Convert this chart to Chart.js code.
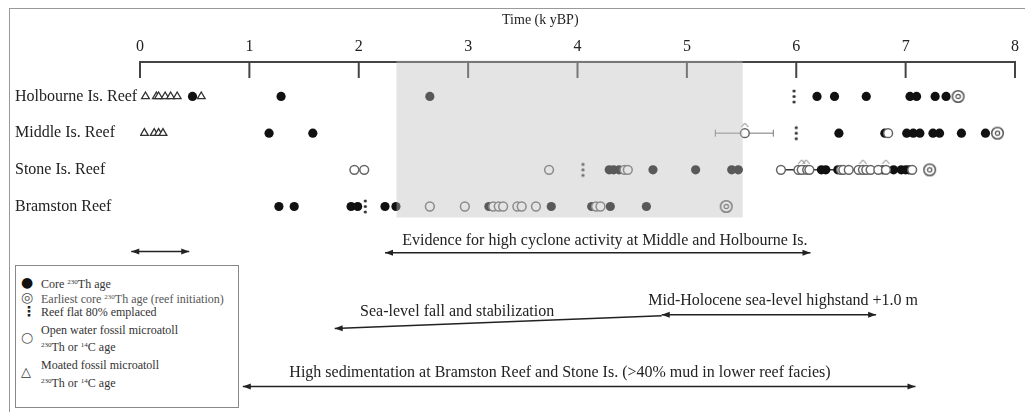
<!DOCTYPE html>
<html>
<head>
<meta charset="utf-8">
<script src="https://cdn.jsdelivr.net/npm/chart.js@4.4.1/dist/chart.umd.min.js"></script>
<style>
  body { margin: 0; background: #fff; }
  #wrap { position: relative; width: 1025px; height: 412px; overflow: hidden; font-family: "Liberation Serif", serif; }
  #frame { position: absolute; left: 9px; top: 8px; width: 1030px; height: 420px; border-top: 1px solid #999; border-left: 1px solid #999; }
  #legend { position: absolute; left: 15px; top: 265px; width: 222px; height: 141px; border: 1px solid #888; background: #fff; color: #333; font-size: 12px; }
  #legend div { position: absolute; left: 25px; line-height: 14px; white-space: nowrap; }
  #legend span.sym { position: absolute; left: 5px; font-family: "DejaVu Sans", sans-serif; font-size: 14px; line-height: 14px; }
  #legend sup { font-size: 7px; vertical-align: 4px; }
</style>
</head>
<body>
<div id="wrap">
  <canvas id="chart" width="1025" height="412"></canvas>
  <div id="frame"></div>
  <div id="legend">
    <span class="sym" style="top:9px;color:#111">●</span><div style="top:9px">Core <sup>230</sup>Th age</div>
    <span class="sym" style="top:24px;color:#555">◎</span><div style="top:24px;color:#555">Earliest core <sup>230</sup>Th age (reef initiation)</div>
    <span class="sym" style="top:38px;color:#222;font-weight:bold;left:6px">⋮</span><div style="top:39px">Reef flat 80% emplaced</div>
    <span class="sym" style="top:64px;color:#555">○</span><div style="top:57px">Open water fossil microatoll</div><div style="top:72px"><sup>230</sup>Th or <sup>14</sup>C age</div>
    <span class="sym" style="top:99px;color:#333;font-size:13px">△</span><div style="top:92px">Moated fossil microatoll</div><div style="top:108px"><sup>230</sup>Th or <sup>14</sup>C age</div>
  </div>
</div>
<script>
const reefs = ['Holbourne Is. Reef', 'Middle Is. Reef', 'Stone Is. Reef', 'Bramston Reef'];
const rows = [1, 2, 3, 4];
const tickValues = [0, 1, 2, 3, 4, 5, 6, 7, 8];

// ages in k yBP, one list per reef and symbol
const holbourneCore = [0.48, 1.29, 2.65, 6.19, 6.35, 6.64, 7.04, 7.10, 7.27, 7.37];
const middleCore = [1.18, 1.58, 6.39, 6.81, 7.01, 7.07, 7.13, 7.25, 7.31, 7.51, 7.73];
const stoneCore = [4.29, 4.33, 4.38, 4.69, 5.08, 5.41, 5.47, 6.07, 6.23, 6.27, 6.38, 6.79, 6.89, 6.96, 7.00, 7.03];
const bramstonCore = [1.27, 1.41, 1.93, 1.99, 2.24, 2.34, 3.19, 3.76, 4.13, 4.30, 4.63];

const initiation = [7.48, 7.84, 7.22, 5.36];
const reefFlat = [5.98, 6.00, 4.05, 2.06];

const middleOpen = [5.53, 6.84];
const stoneOpen = [1.96, 2.05, 3.74, 4.43, 4.46, 5.86, 6.02, 6.05, 6.10, 6.12, 6.41, 6.43, 6.48, 6.57, 6.61, 6.64, 6.68, 6.75, 6.82, 7.06];
const bramstonOpen = [2.65, 2.97, 3.23, 3.28, 3.32, 3.45, 3.49, 3.62, 4.17, 4.21];

const holbourneMoated = [0.05, 0.15, 0.17, 0.23, 0.28, 0.34, 0.56];
const middleMoated = [0.04, 0.13, 0.17, 0.21];

const middleErrorBar = [5.26, 5.79];
const stoneSeries = [5.86, 7.05];
const middleCarets = [5.53];
const stoneCarets = [6.05, 6.09, 6.61, 6.82];
const caretLift = 0.22;

const axisTitle = 'Time (k yBP)';
const titlePos = 3.66;

const arrowStart = [-0.08, 2.24, 1.78, 4.77, 0.94];
const arrowEnd = [0.45, 6.13, 4.77, 6.73, 7.09];
const arrowStartRow = [5.23, 5.26, 7.33, 6.95, 8.91];
const arrowEndRow = [5.23, 5.26, 6.98, 6.95, 8.91];
const arrowHeads = ['both', 'both', 'start', 'both', 'both'];

const notes = [
  'Evidence for high cyclone activity at Middle and Holbourne Is.',
  'Sea-level fall and stabilization',
  'Mid-Holocene sea-level highstand +1.0 m',
  'High sedimentation at Bramston Reef and Stone Is. (>40% mud in lower reef facies)'
];
const noteX = [4.25, 2.9, 5.88, 3.84];
const noteRow = [4.94, 6.87, 6.57, 8.53];

const shadeFrom = 2.345;
const shadeTo = 5.51;
const shadeRowEnd = 4.3;

const points = (xs, row) => xs.map(v => ({x: v, y: row}));

function makeIcon(w, h, draw) {
  const c = document.createElement('canvas');
  c.width = w;
  c.height = h;
  draw(c.getContext('2d'));
  return c;
}

const ringIcon = makeIcon(15, 15, (g) => {
  g.strokeStyle = '#555';
  g.fillStyle = '#fff';
  g.lineWidth = 1.5;
  g.beginPath(); g.arc(7.5, 7.5, 5.8, 0, Math.PI * 2); g.fill(); g.stroke();
  g.lineWidth = 1.2;
  g.beginPath(); g.arc(7.5, 7.5, 2.2, 0, Math.PI * 2); g.stroke();
});

const flatIcon = makeIcon(5, 17, (g) => {
  g.fillStyle = '#333';
  [3, 8.5, 14].forEach(cy => { g.beginPath(); g.arc(2.5, cy, 1.6, 0, Math.PI * 2); g.fill(); });
});

const caretIcon = makeIcon(9, 6, (g) => {
  g.strokeStyle = '#777';
  g.lineWidth = 1;
  g.beginPath(); g.moveTo(1, 5); g.lineTo(4.5, 1); g.lineTo(8, 5); g.stroke();
});

const core = (data) => ({
  data, type: 'scatter', order: 3, pointStyle: 'circle', pointRadius: 4.6,
  pointBackgroundColor: '#111', pointBorderColor: '#111', pointBorderWidth: 0
});
const open = (data) => ({
  data, type: 'scatter', order: 2, pointStyle: 'circle', pointRadius: 4.4,
  pointBackgroundColor: '#fff', pointBorderColor: '#666', pointBorderWidth: 1.5
});
const moated = (data) => ({
  data, type: 'scatter', order: 2, pointStyle: 'triangle', pointRadius: 4.5,
  pointBackgroundColor: '#fff', pointBorderColor: '#333', pointBorderWidth: 1.3
});

const datasets = [
  {
    data: points(middleErrorBar, 2), type: 'line', order: 6, showLine: true,
    borderColor: '#777', borderWidth: 1, pointStyle: 'line', rotation: 90,
    pointRadius: 3.5, pointBorderColor: '#777', pointBorderWidth: 1
  },
  {
    data: points(stoneSeries, 3), type: 'line', order: 6, showLine: true,
    borderColor: '#333', borderWidth: 1.5, pointRadius: 0
  },
  core(points(holbourneCore, 1)),
  core(points(middleCore, 2)),
  core(points(stoneCore, 3)),
  core(points(bramstonCore, 4)),
  open(points(middleOpen, 2)),
  open(points(stoneOpen, 3)),
  open(points(bramstonOpen, 4)),
  moated(points(holbourneMoated, 1)),
  moated(points(middleMoated, 2)),
  {
    data: initiation.map((v, i) => ({x: v, y: rows[i]})), type: 'scatter', order: 1,
    pointStyle: ringIcon, pointRadius: 7
  },
  {
    data: reefFlat.map((v, i) => ({x: v, y: rows[i]})), type: 'scatter', order: 1,
    pointStyle: flatIcon, pointRadius: 8
  },
  {
    data: points(middleCarets, 2 - caretLift).concat(points(stoneCarets, 3 - caretLift)),
    type: 'scatter', order: 0, pointStyle: caretIcon, pointRadius: 4
  }
];

function drawArrowHead(ctx, x1, y1, x2, y2) {
  const a = Math.atan2(y2 - y1, x2 - x1);
  ctx.beginPath();
  ctx.moveTo(x2, y2);
  ctx.lineTo(x2 - 8 * Math.cos(a) + 3 * Math.sin(a), y2 - 8 * Math.sin(a) - 3 * Math.cos(a));
  ctx.lineTo(x2 - 8 * Math.cos(a) - 3 * Math.sin(a), y2 - 8 * Math.sin(a) + 3 * Math.cos(a));
  ctx.closePath();
  ctx.fill();
}

const extras = {
  id: 'extras',
  afterDraw(chart) {
    const {ctx, chartArea} = chart;
    const x = chart.scales.x;
    const y = chart.scales.y;
    ctx.save();

    ctx.strokeStyle = '#444';
    ctx.lineWidth = 2;
    tickValues.forEach(v => {
      const px = x.getPixelForValue(v);
      ctx.beginPath();
      ctx.moveTo(px, chartArea.top);
      ctx.lineTo(px, chartArea.top + 16);
      ctx.stroke();
    });

    ctx.fillStyle = '#222';
    ctx.font = '14px "Liberation Serif"';
    ctx.textAlign = 'center';
    ctx.textBaseline = 'middle';
    ctx.fillText(axisTitle, x.getPixelForValue(titlePos), 20);

    ctx.strokeStyle = '#222';
    ctx.fillStyle = '#222';
    ctx.lineWidth = 1.5;
    arrowStart.forEach((v, i) => {
      const x1 = x.getPixelForValue(v), y1 = y.getPixelForValue(arrowStartRow[i]);
      const x2 = x.getPixelForValue(arrowEnd[i]), y2 = y.getPixelForValue(arrowEndRow[i]);
      ctx.beginPath();
      ctx.moveTo(x1, y1);
      ctx.lineTo(x2, y2);
      ctx.stroke();
      drawArrowHead(ctx, x2, y2, x1, y1);
      if (arrowHeads[i] === 'both') drawArrowHead(ctx, x1, y1, x2, y2);
    });

    ctx.font = '16px "Liberation Serif"';
    notes.forEach((t, i) => {
      ctx.fillText(t, x.getPixelForValue(noteX[i]), y.getPixelForValue(noteRow[i]));
    });

    const left = x.getPixelForValue(shadeFrom);
    const right = x.getPixelForValue(shadeTo);
    ctx.fillStyle = 'rgba(190, 191, 194, 0.42)';
    ctx.fillRect(left, chartArea.top - 1.5, right - left, y.getPixelForValue(shadeRowEnd) - chartArea.top + 1.5);
    ctx.restore();
  }
};

new Chart(document.getElementById('chart').getContext('2d'), {
  type: 'scatter',
  data: {datasets},
  options: {
    responsive: false,
    animation: false,
    events: [],
    layout: {padding: {left: 15, right: 8, top: 0, bottom: 7}},
    plugins: {legend: {display: false}, tooltip: {enabled: false}},
    scales: {
      x: {
        type: 'linear',
        position: 'top',
        min: 0,
        max: 8,
        afterBuildTicks: (scale) => { scale.ticks = tickValues.map(v => ({value: v})); },
        afterFit: (scale) => { scale.height = 62; },
        ticks: {color: '#222', padding: 6, font: {family: 'Liberation Serif', size: 16}},
        grid: {display: true, drawOnChartArea: false, drawTicks: false},
        border: {display: true, color: '#444', width: 2}
      },
      y: {
        type: 'linear',
        reverse: true,
        min: 0.06,
        max: 9.26,
        afterBuildTicks: (scale) => { scale.ticks = rows.map(v => ({value: v})); },
        afterFit: (scale) => { scale.width = 125; },
        ticks: {
          color: '#222',
          crossAlign: 'far',
          font: {family: 'Liberation Serif', size: 16},
          callback: (value) => reefs[rows.indexOf(value)]
        },
        grid: {display: false},
        border: {display: false}
      }
    }
  },
  plugins: [extras]
});
</script>
</body>
</html>
